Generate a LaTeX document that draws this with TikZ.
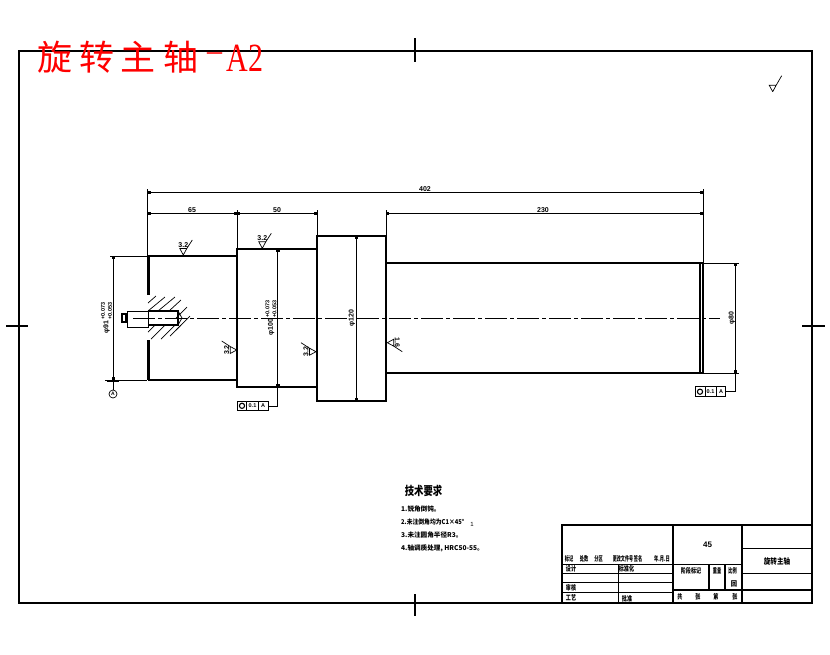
\documentclass[tikz,border=0pt]{standalone}
\usepackage{fontspec}
\usepackage{graphicx}
\setmainfont{Liberation Sans}
\newfontfamily\cjk{Noto Sans CJK SC}
\newfontfamily\titleserif{Liberation Serif}
\usepackage{tikz}
\usetikzlibrary{arrows.meta}

\tikzset{
  outline/.style={line width=1.5pt},
  frameline/.style={line width=1.4pt},
  thinline/.style={line width=0.7pt},
  centerline/.style={line width=0.7pt, dash pattern=on 22pt off 3pt on 4pt off 3pt},
  dimline/.style={line width=0.7pt, {Rectangle[length=3pt,width=3pt]}-{Rectangle[length=3pt,width=3pt]}},
  dimtext/.style={font=\fontsize{7}{7}\selectfont\bfseries, inner sep=0pt},
  cjktext/.style={font=\cjk\fontsize{6.6}{8}\selectfont\bfseries, inner sep=0pt},
  blocktext/.style={font=\cjk\fontsize{7}{8}\selectfont\bfseries, inner sep=0pt},
  headtext/.style={red, inner sep=0pt, font=\cjk\fontsize{35}{35}\selectfont},
  fcfbox/.style={line width=0.9pt, fill=white},
  fcftext/.style={font=\fontsize{5.5}{5.5}\selectfont\bfseries, inner sep=0pt},
}

% narrow setting of the small block texts
\newcommand{\narrow}[2][.72]{\scalebox{#1}[1]{#2}}
% diameter with its two tolerance values
\newcommand{\tolvalue}[3]{#1\,$\vcenter{\hbox{\fontsize{5.5}{5}\selectfont\bfseries\shortstack[l]{#2\\#3}}}$}

% one surface finish mark: tip position, rotation, value
\newcommand{\roughmark}[4]{
  \begin{scope}[shift={(#1,#2)}, rotate=#3]
    \draw[thinline] (0,0) -- (-3.5,-6.5) -- (3.5,-6.5) -- (0,0) (3.5,-6.5) -- (9,-15);
    \node[dimtext, transform shape] at (0,-10) {#4};
  \end{scope}
}

\begin{document}
\begin{tikzpicture}[x=1pt, y=-1pt]
  \useasboundingbox (0,0) rectangle (830,654);

  % Drawing frame and centring ticks
  \draw[frameline] (19,51) rectangle (812,603);
  \draw[frameline] (415,38) -- (415,62);
  \draw[frameline] (415,594) -- (415,616);
  \draw[frameline] (6,326) -- (28,326);
  \draw[frameline] (802,326) -- (825,326);

  % Red heading
  \node[headtext] at (55,57) {旋};
  \node[headtext] at (97,57) {转};
  \node[headtext] at (138,57) {主};
  \node[headtext] at (181,57) {轴};
  \node[red, inner sep=0pt, font=\titleserif\fontsize{30}{30}\selectfont] at (214.5,57) {–};
  \node[red, inner sep=0pt, font=\titleserif\fontsize{40}{40}\selectfont] at (245,58.5) {\scalebox{.75}[1]{A2}};

  % Shaft outline
  \draw[outline] (148,256) -- (237,256) -- (237,249) -- (317,249) -- (317,236) -- (386,236)
    -- (386,263) -- (703,263) -- (703,373) -- (386,373) -- (386,401) -- (317,401)
    -- (317,387) -- (237,387) -- (237,380) -- (148,380);
  \draw[outline] (237,256) -- (237,380);
  \draw[outline] (317,249) -- (317,387);
  \draw[outline] (386,263) -- (386,373);
  \draw[outline] (700,263) -- (700,373);
  \draw[line width=2.5pt] (148.5,256) -- (148.5,295) (148.5,340) -- (148.5,380);
  \draw[centerline] (133,318) -- (720,318);

  % Centre hole and hatching
  \draw[thinline] (127,311) rectangle (148,327);
  \draw[outline] (148,311) -- (178,311) -- (178,325) -- (148,325);
  \draw[thinline] (178,311) -- (182,318) -- (178,325);
  \draw[line width=1.2pt] (122,314) rectangle (126,322);
  \foreach \xa/\ya/\xb/\yb in {148/303/156/296, 148/311/165/297, 158/311/175/297,
      169/311/181/300, 176/318/187/307, 148/332/155/325, 151/339/165/325,
      161/339/175/325, 170/336/181/325, 176/330/190/316}
    \draw[thinline] (\xa,\ya) -- (\xb,\yb);

  % Extension lines
  \draw[thinline] (147.5,189) -- (147.5,256);
  \draw[thinline] (703,189) -- (703,263);
  \draw[thinline] (237,210) -- (237,249);
  \draw[thinline] (317,210) -- (317,236);
  \draw[thinline] (386,210) -- (386,263);
  \draw[thinline] (110,256) -- (150,256);
  \draw[thinline] (105,380) -- (147,380);
  \draw[thinline] (703,263) -- (739,263);
  \draw[thinline] (703,373) -- (739,373);

  % Length dimensions
  \draw[dimline] (147.5,192) -- (703,192);
  \draw[dimline] (147.5,213) -- (237,213);
  \draw[dimline] (237,213) -- (317,213);
  \draw[dimline] (386,213) -- (703,213);
  \node[dimtext] at (425,189) {402};
  \node[dimtext] at (192,210) {65};
  \node[dimtext] at (277,210) {50};
  \node[dimtext] at (543,210) {230};

  % Diameter dimensions
  \draw[dimline] (113,256) -- (113,380);
  \draw[dimline] (277.7,249) -- (277.7,387);
  \draw[dimline] (356,236) -- (356,401);
  \draw[dimline] (735.3,263) -- (735.3,373);
  \node[dimtext, rotate=90] at (106.5,318) {\tolvalue{φ91}{+0.073}{+0.053}};
  \node[dimtext, rotate=90] at (271,318) {\tolvalue{φ100}{+0.073}{+0.053}};
  \node[dimtext, rotate=90, fill=white] at (352,318) {φ120};
  \node[dimtext, rotate=90, fill=white] at (732,318) {φ80};

  % Datum A
  \draw[line width=1.6pt] (107,381) -- (119,381);
  \draw[thinline] (113,381) -- (113,390);
  \node[draw, circle, thinline, minimum size=8pt, inner sep=0pt, font=\fontsize{5}{5}\selectfont\bfseries] (datumA) at (113,394) {A};

  % Runout frames with their leaders
  \draw[thinline] (277.7,387) -- (277.7,406) -- (268,406);
  \draw[fcfbox] (237.3,401.7) rectangle (268,410);
  \draw[fcfbox] (246.7,401.7) -- (246.7,410) (258.3,401.7) -- (258.3,410);
  \draw[line width=1.1pt] (242,405.8) circle (2.6pt);
  \node[fcftext] at (252.5,406) {0.1};
  \node[fcftext] at (263,406) {A};

  \draw[thinline] (735.3,373) -- (735.3,391) -- (725.7,391);
  \draw[fcfbox] (695,386.7) rectangle (725.7,396.7);
  \draw[fcfbox] (705,386.7) -- (705,396.7) (716,386.7) -- (716,396.7);
  \draw[line width=1.1pt] (700,391.7) circle (2.6pt);
  \node[fcftext] at (710.5,392) {0.1};
  \node[fcftext] at (721,392) {A};

  % Surface finish marks
  \roughmark{183.3}{255}{0}{3.2}
  \roughmark{262.3}{248.3}{0}{3.2}
  \roughmark{236.7}{350}{90}{3.2}
  \roughmark{316}{351.7}{90}{3.2}
  \roughmark{387.3}{342.7}{-90}{1.6}
  \begin{scope}[shift={(772.7,91.7)}]
    \draw[thinline] (0,0) -- (-3.5,-6.5) -- (3.5,-6.5) -- (0,0) (3.5,-6.5) -- (9,-16);
  \end{scope}

  % Technical notes
  \node[cjktext, font=\cjk\fontsize{12}{12}\selectfont\bfseries] at (423.5,491) {\narrow[.78]{技术要求}};
  \node[cjktext, anchor=west] at (401,509) {1.锐角倒钝。};
  \node[cjktext, anchor=west] at (401,522) {\narrow[.88]{2.未注倒角均为C1×45°}};
  \node[dimtext, font=\fontsize{6}{6}\selectfont] at (472,524) {1};
  \node[cjktext, anchor=west] at (401,535) {3.未注圆角半径R3。};
  \node[cjktext, anchor=west] at (401,548) {4.轴调质处理, HRC50-55。};

  % Title block
  \draw[frameline] (562,603) -- (562,525) -- (812,525);
  \draw[frameline] (673,525) -- (673,603);
  \draw[frameline] (742,525) -- (742,603);
  \draw[frameline] (562,564.3) -- (742,564.3);
  \draw[frameline] (562,573.7) -- (673,573.7);
  \draw[frameline] (562,582.7) -- (673,582.7);
  \draw[frameline] (562,592.3) -- (673,592.3);
  \draw[frameline] (673,590) -- (812,590);
  \draw[frameline] (742,548.3) -- (812,548.3);
  \draw[frameline] (742,573.7) -- (812,573.7);
  \draw[frameline] (618.3,564.3) -- (618.3,603);
  \draw[frameline] (709,564.3) -- (709,590);
  \draw[frameline] (725,564.3) -- (725,590);

  \node[blocktext] at (569,559) {\narrow[.6]{标记}};
  \node[blocktext] at (584,559) {\narrow[.6]{处数}};
  \node[blocktext] at (598.5,559) {\narrow[.6]{分区}};
  \node[blocktext] at (623,559) {\narrow[.58]{更改文件号}};
  \node[blocktext] at (638,559) {\narrow[.6]{签名}};
  \node[blocktext] at (662,559) {\narrow[.6]{年.月.日}};
  \node[blocktext] at (571,569) {\narrow{设计}};
  \node[blocktext] at (626.5,569) {\narrow{标准化}};
  \node[blocktext] at (571,588) {\narrow{审核}};
  \node[blocktext] at (571,598) {\narrow{工艺}};
  \node[blocktext] at (627,599) {\narrow{批准}};
  \node[dimtext, font=\fontsize{8}{8}\selectfont\bfseries] at (707.5,545) {45};
  \node[blocktext, font=\cjk\fontsize{8}{8}\selectfont\bfseries] at (777,561.7) {\narrow[.82]{旋转主轴}};
  \node[blocktext] at (691,571) {\narrow{阶段标记}};
  \node[blocktext] at (717,571) {\narrow[.6]{重量}};
  \node[blocktext] at (732.5,571) {\narrow[.6]{比例}};
  \node[blocktext] at (734,584) {\narrow[.9]{回}};
  \node[blocktext] at (680,597) {\narrow{共}};
  \node[blocktext] at (698,597) {\narrow{张}};
  \node[blocktext] at (716,597) {\narrow{第}};
  \node[blocktext] at (735,597) {\narrow{张}};
\end{tikzpicture}
\end{document}
